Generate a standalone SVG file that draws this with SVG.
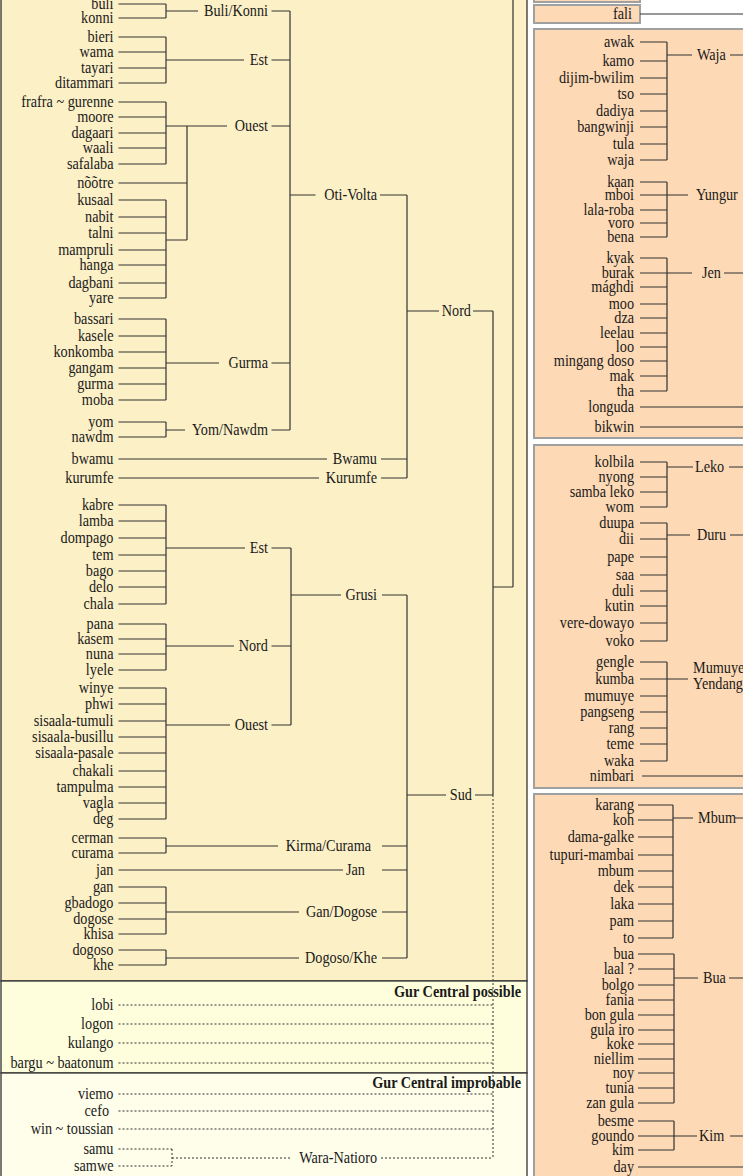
<svg xmlns="http://www.w3.org/2000/svg" width="743" height="1176" viewBox="0 0 743 1176">
<style>
text{font-family:"Liberation Serif","Times New Roman",serif;font-size:16px;fill:#1a1a1a}
.e{text-anchor:end}
.b{font-weight:bold}
.c path{fill:none;stroke:#333;stroke-width:1.2}
.c .d{stroke-dasharray:2,2;stroke-width:1}
.pl{stroke:#333;stroke-width:1.3}
.pr{fill:#FDD9B5;stroke:#A0A0A0;stroke-width:2}
</style>
<rect width="743" height="1176" fill="#fff"/>
<g id="panels">
<rect class="pl" x="1" y="-5" width="526" height="986" fill="#FCF0C7"/>
<rect class="pl" x="1" y="981" width="526" height="92" fill="#FEFEDD"/>
<rect class="pl" x="1" y="1073" width="526" height="110" fill="#FEFEEB"/>
<rect class="pr" x="534" y="-10" width="106" height="12"/>
<rect class="pr" x="534" y="5" width="106" height="18"/>
<rect class="pr" x="534" y="29" width="220" height="409"/>
<rect class="pr" x="534" y="445" width="220" height="343"/>
<rect class="pr" x="534" y="794" width="220" height="400"/>
</g>
<g id="connectors" class="c">
<path d="M118.5,4H166M118.5,18H166M166,4V18M166,11H198M271.5,11H290"/>
<path d="M118.5,37H166M118.5,52H166M118.5,68H166M118.5,83H166M166,37V83M166,60H244M271.5,60H290"/>
<path d="M118.5,102H166M118.5,117H166M118.5,133H166M118.5,148H166M118.5,164H166M166,102V164M166,126H227M271.5,126H290"/>
<path d="M118.5,183H187M187,126V240M166,240H187"/>
<path d="M118.5,200H166M118.5,217H166M118.5,233H166M118.5,250H166M118.5,265H166M118.5,283H166M118.5,298H166M166,200V298"/>
<path d="M118.5,319H166M118.5,336H166M118.5,352H166M118.5,368H166M118.5,384H166M118.5,400H166M166,319V400M166,363H219M271.5,363H290"/>
<path d="M118.5,422H166M118.5,437H166M166,422V437M166,430H185M271.5,430H290"/>
<path d="M290,11V430M290,195H315.5M380,195H407"/>
<path d="M118.5,459H327M381,459H407M118.5,478H319M381,478H407M407,195V478"/>
<path d="M407,311H439M473,311H493M493,311V795M493,587H513M513,587V-2"/>
<path d="M118.5,505H166M118.5,521H166M118.5,538H166M118.5,555H166M118.5,571H166M118.5,587H166M118.5,604H166M166,505V604M166,548H245M271.5,548H291"/>
<path d="M118.5,624H166M118.5,639H166M118.5,654H166M118.5,670H166M166,624V670M166,646H234M271.5,646H291"/>
<path d="M118.5,688H166M118.5,704H166M118.5,721H166M118.5,737H166M118.5,753H166M118.5,771H166M118.5,787H166M118.5,803H166M118.5,819H166M166,688V819M166,725H230M271.5,725H291"/>
<path d="M291,548V725M291,595H341M382,595H407"/>
<path d="M118.5,838H166M118.5,853H166M166,838V853M166,846H278M382,846H407"/>
<path d="M118.5,870H343M382,870H407"/>
<path d="M118.5,887H166M118.5,903H166M118.5,919H166M118.5,934H166M166,887V934M166,912H299M382,912H407"/>
<path d="M118.5,950H166M118.5,965H166M166,950V965M166,958H299M382,958H407"/>
<path d="M407,595V958M407,795H446M475,795H493"/>
<path class="d" d="M493,795V1158M118.5,1005H493M118.5,1024H493M118.5,1043H493M118.5,1063H493M118.5,1094H493M118.5,1111H493M118.5,1129H493M118.5,1149H172M118.5,1166H172M172,1149V1166M172,1158H292M381,1158H493"/>
<path d="M640,14H743"/>
<path d="M640,42H667M640,61H667M640,78H667M640,94H667M640,111H667M640,127H667M640,144H667M640,160H667M667,42V160M667,55H692M730,55H743"/>
<path d="M640,182H667M640,195H667M640,210H667M640,223H667M640,237H667M667,182V237M667,195H688"/>
<path d="M640,258H667M640,273H667M640,287H667M640,304H667M640,318H667M640,333H667M640,347H667M640,361H667M640,376H667M640,391H667M667,258V391M667,273H692M724,273H743"/>
<path d="M640,407H743M640,427H743"/>
<path d="M640,462H667M640,477H667M640,492H667M640,507H667M667,462V507M667,467H693M729,467H743"/>
<path d="M640,523H667M640,539H667M640,557H667M640,575H667M640,591H667M640,606H667M640,623H667M640,641H667M667,523V641M667,535H690M730,535H743"/>
<path d="M640,662H667M640,679H667M640,696H667M640,712H667M640,728H667M640,744H667M640,761H667M667,662V761M660,679H688"/>
<path d="M642,776H743"/>
<path d="M638,805H673M638,820H673M638,837H673M638,855H673M638,871H673M638,887H673M638,904H673M638,921H673M638,938H673M673,805V938M673,818H693M735,818H743"/>
<path d="M638,954H674M638,969H674M638,985H674M638,1000H674M638,1015H674M638,1030H674M638,1044H674M638,1059H674M638,1073H674M638,1088H674M638,1103H674M674,954V1103M674,978H698M729,978H743"/>
<path d="M638,1121H674M638,1136H674M638,1150H674M674,1121V1150M674,1136H697M730,1136H743"/>
<path d="M638,1167H743"/>
</g>
<g id="labels" transform="matrix(0.89 0 0 1 0 0.5)">
<g class="e">
<g id="l-buli"><text x="127.5" y="8.5">buli</text></g>
<g id="l-konni"><text x="127.5" y="22.5">konni</text></g>
<g id="l-bieri"><text x="127.5" y="41.5">bieri</text></g>
<g id="l-wama"><text x="127.5" y="56.5">wama</text></g>
<g id="l-tayari"><text x="127.5" y="72.5">tayari</text></g>
<g id="l-ditammari"><text x="127.5" y="87.5">ditammari</text></g>
<g id="l-frafra"><text x="127.5" y="106.5">frafra ~ gurenne</text></g>
<g id="l-moore"><text x="127.5" y="121.5">moore</text></g>
<g id="l-dagaari"><text x="127.5" y="137.5">dagaari</text></g>
<g id="l-waali"><text x="127.5" y="152.5">waali</text></g>
<g id="l-safalaba"><text x="127.5" y="168.5">safalaba</text></g>
<g id="l-nootre"><text x="127.5" y="187.5">nõõtre</text></g>
<g id="l-kusaal"><text x="127.5" y="204.5">kusaal</text></g>
<g id="l-nabit"><text x="127.5" y="221.5">nabit</text></g>
<g id="l-talni"><text x="127.5" y="237.5">talni</text></g>
<g id="l-mampruli"><text x="127.5" y="254.5">mampruli</text></g>
<g id="l-hanga"><text x="127.5" y="269.5">hanga</text></g>
<g id="l-dagbani"><text x="127.5" y="287.5">dagbani</text></g>
<g id="l-yare"><text x="127.5" y="302.5">yare</text></g>
<g id="l-bassari"><text x="127.5" y="323.5">bassari</text></g>
<g id="l-kasele"><text x="127.5" y="340.5">kasele</text></g>
<g id="l-konkomba"><text x="127.5" y="356.5">konkomba</text></g>
<g id="l-gangam"><text x="127.5" y="372.5">gangam</text></g>
<g id="l-gurma"><text x="127.5" y="388.5">gurma</text></g>
<g id="l-moba"><text x="127.5" y="404.5">moba</text></g>
<g id="l-yom"><text x="127.5" y="426.5">yom</text></g>
<g id="l-nawdm"><text x="127.5" y="441.5">nawdm</text></g>
<g id="l-bwamu"><text x="127.5" y="463.5">bwamu</text></g>
<g id="l-kurumfe"><text x="127.5" y="482.5">kurumfe</text></g>
<g id="l-kabre"><text x="127.5" y="509.5">kabre</text></g>
<g id="l-lamba"><text x="127.5" y="525.5">lamba</text></g>
<g id="l-dompago"><text x="127.5" y="542.5">dompago</text></g>
<g id="l-tem"><text x="127.5" y="559.5">tem</text></g>
<g id="l-bago"><text x="127.5" y="575.5">bago</text></g>
<g id="l-delo"><text x="127.5" y="591.5">delo</text></g>
<g id="l-chala"><text x="127.5" y="608.5">chala</text></g>
<g id="l-pana"><text x="127.5" y="628.5">pana</text></g>
<g id="l-kasem"><text x="127.5" y="643.5">kasem</text></g>
<g id="l-nuna"><text x="127.5" y="658.5">nuna</text></g>
<g id="l-lyele"><text x="127.5" y="674.5">lyele</text></g>
<g id="l-winye"><text x="127.5" y="692.5">winye</text></g>
<g id="l-phwi"><text x="127.5" y="708.5">phwi</text></g>
<g id="l-sisaala-tumuli"><text x="127.5" y="725.5">sisaala-tumuli</text></g>
<g id="l-sisaala-busillu"><text x="127.5" y="741.5">sisaala-busillu</text></g>
<g id="l-sisaala-pasale"><text x="127.5" y="757.5">sisaala-pasale</text></g>
<g id="l-chakali"><text x="127.5" y="775.5">chakali</text></g>
<g id="l-tampulma"><text x="127.5" y="791.5">tampulma</text></g>
<g id="l-vagla"><text x="127.5" y="807.5">vagla</text></g>
<g id="l-deg"><text x="127.5" y="823.5">deg</text></g>
<g id="l-cerman"><text x="127.5" y="842.5">cerman</text></g>
<g id="l-curama"><text x="127.5" y="857.5">curama</text></g>
<g id="l-jan"><text x="127.5" y="874.5">jan</text></g>
<g id="l-gan"><text x="127.5" y="891.5">gan</text></g>
<g id="l-gbadogo"><text x="127.5" y="907.5">gbadogo</text></g>
<g id="l-dogose"><text x="127.5" y="923.5">dogose</text></g>
<g id="l-khisa"><text x="127.5" y="938.5">khisa</text></g>
<g id="l-dogoso"><text x="127.5" y="954.5">dogoso</text></g>
<g id="l-khe"><text x="127.5" y="969.5">khe</text></g>
<g id="l-lobi"><text x="127.5" y="1009.5">lobi</text></g>
<g id="l-logon"><text x="127.5" y="1028.5">logon</text></g>
<g id="l-kulango"><text x="127.5" y="1047.5">kulango</text></g>
<g id="l-bargu"><text x="127.5" y="1067.5">bargu ~ baatonum</text></g>
<g id="l-viemo"><text x="127.5" y="1098.5">viemo</text></g>
<g id="l-cefo"><text x="122.5" y="1115.5">cefo</text></g>
<g id="l-win"><text x="127.5" y="1133.5">win ~ toussian</text></g>
<g id="l-samu"><text x="127.5" y="1153.5">samu</text></g>
<g id="l-samwe"><text x="127.5" y="1170.5">samwe</text></g>
<g id="g-bulikonni"><text x="301.1" y="15.5">Buli/Konni</text></g>
<g id="g-est-ov"><text x="301.1" y="64.5">Est</text></g>
<g id="g-ouest-ov"><text x="301.1" y="130.5">Ouest</text></g>
<g id="g-gurma"><text x="301.1" y="367.5">Gurma</text></g>
<g id="g-yomnawdm"><text x="301.1" y="434.5">Yom/Nawdm</text></g>
<g id="g-otivolta"><text x="423.6" y="199.5">Oti-Volta</text></g>
<g id="g-bwamu"><text x="423.6" y="463.5">Bwamu</text></g>
<g id="g-kurumfe"><text x="423.6" y="482.5">Kurumfe</text></g>
<g id="g-nord"><text x="529.2" y="315.5">Nord</text></g>
<g id="g-est-gr"><text x="301.1" y="552.5">Est</text></g>
<g id="g-nord-gr"><text x="301.1" y="650.5">Nord</text></g>
<g id="g-ouest-gr"><text x="301.1" y="729.5">Ouest</text></g>
<g id="g-grusi"><text x="423.6" y="599.5">Grusi</text></g>
<g id="g-kirma"><text x="416.9" y="850.5">Kirma/Curama</text></g>
<g id="g-jan"><text x="410.1" y="874.5">Jan</text></g>
<g id="g-gandogose"><text x="423.6" y="916.5">Gan/Dogose</text></g>
<g id="g-dogosokhe"><text x="423.6" y="962.5">Dogoso/Khe</text></g>
<g id="g-sud"><text x="530.3" y="799.5">Sud</text></g>
<g id="g-waranatioro"><text x="423.6" y="1162.5">Wara-Natioro</text></g>
<g id="t-possible"><text class="b" x="585.4" y="997">Gur Central possible</text></g>
<g id="t-improbable"><text class="b" x="585.4" y="1088">Gur Central improbable</text></g>
<g id="r-fali"><text x="710.1" y="18.5">fali</text></g>
<g id="r-awak"><text x="712.4" y="46.5">awak</text></g>
<g id="r-kamo"><text x="712.4" y="65.5">kamo</text></g>
<g id="r-dijim"><text x="712.4" y="82.5">dijim-bwilim</text></g>
<g id="r-tso"><text x="712.4" y="98.5">tso</text></g>
<g id="r-dadiya"><text x="712.4" y="115.5">dadiya</text></g>
<g id="r-bangwinji"><text x="712.4" y="131.5">bangwinji</text></g>
<g id="r-tula"><text x="712.4" y="148.5">tula</text></g>
<g id="r-waja"><text x="712.4" y="164.5">waja</text></g>
<g id="r-kaan"><text x="712.4" y="186.5">kaan</text></g>
<g id="r-mboi"><text x="712.4" y="199.5">mboi</text></g>
<g id="r-lalaroba"><text x="712.4" y="214.5">lala-roba</text></g>
<g id="r-voro"><text x="712.4" y="227.5">voro</text></g>
<g id="r-bena"><text x="712.4" y="241.5">bena</text></g>
<g id="r-kyak"><text x="712.4" y="262.5">kyak</text></g>
<g id="r-burak"><text x="712.4" y="277.5">burak</text></g>
<g id="r-maghdi"><text x="712.4" y="291.5">mághdi</text></g>
<g id="r-moo"><text x="712.4" y="308.5">moo</text></g>
<g id="r-dza"><text x="712.4" y="322.5">dza</text></g>
<g id="r-leelau"><text x="712.4" y="337.5">leelau</text></g>
<g id="r-loo"><text x="712.4" y="351.5">loo</text></g>
<g id="r-mingang"><text x="712.4" y="365.5">mingang doso</text></g>
<g id="r-mak"><text x="712.4" y="380.5">mak</text></g>
<g id="r-tha"><text x="712.4" y="395.5">tha</text></g>
<g id="r-longuda"><text x="712.4" y="411.5">longuda</text></g>
<g id="r-bikwin"><text x="712.4" y="431.5">bikwin</text></g>
<g id="r-kolbila"><text x="712.4" y="466.5">kolbila</text></g>
<g id="r-nyong"><text x="712.4" y="481.5">nyong</text></g>
<g id="r-sambaleko"><text x="712.4" y="496.5">samba leko</text></g>
<g id="r-wom"><text x="712.4" y="511.5">wom</text></g>
<g id="r-duupa"><text x="712.4" y="527.5">duupa</text></g>
<g id="r-dii"><text x="712.4" y="543.5">dii</text></g>
<g id="r-pape"><text x="712.4" y="561.5">pape</text></g>
<g id="r-saa"><text x="712.4" y="579.5">saa</text></g>
<g id="r-duli"><text x="712.4" y="595.5">duli</text></g>
<g id="r-kutin"><text x="712.4" y="610.5">kutin</text></g>
<g id="r-veredowayo"><text x="712.4" y="627.5">vere-dowayo</text></g>
<g id="r-voko"><text x="712.4" y="645.5">voko</text></g>
<g id="r-gengle"><text x="712.4" y="666.5">gengle</text></g>
<g id="r-kumba"><text x="712.4" y="683.5">kumba</text></g>
<g id="r-mumuye"><text x="712.4" y="700.5">mumuye</text></g>
<g id="r-pangseng"><text x="712.4" y="716.5">pangseng</text></g>
<g id="r-rang"><text x="712.4" y="732.5">rang</text></g>
<g id="r-teme"><text x="712.4" y="748.5">teme</text></g>
<g id="r-waka"><text x="712.4" y="765.5">waka</text></g>
<g id="r-nimbari"><text x="712.4" y="780.5">nimbari</text></g>
<g id="r-karang"><text x="712.4" y="809.5">karang</text></g>
<g id="r-koh"><text x="712.4" y="824.5">koh</text></g>
<g id="r-damagalke"><text x="712.4" y="841.5">dama-galke</text></g>
<g id="r-tupuri"><text x="712.4" y="859.5">tupuri-mambai</text></g>
<g id="r-mbum"><text x="712.4" y="875.5">mbum</text></g>
<g id="r-dek"><text x="712.4" y="891.5">dek</text></g>
<g id="r-laka"><text x="712.4" y="908.5">laka</text></g>
<g id="r-pam"><text x="712.4" y="925.5">pam</text></g>
<g id="r-to"><text x="712.4" y="942.5">to</text></g>
<g id="r-bua"><text x="712.4" y="958.5">bua</text></g>
<g id="r-laal"><text x="712.4" y="973.5">laal ?</text></g>
<g id="r-bolgo"><text x="712.4" y="989.5">bolgo</text></g>
<g id="r-fania"><text x="712.4" y="1004.5">fania</text></g>
<g id="r-bongula"><text x="712.4" y="1019.5">bon gula</text></g>
<g id="r-gulairo"><text x="712.4" y="1034.5">gula iro</text></g>
<g id="r-koke"><text x="712.4" y="1048.5">koke</text></g>
<g id="r-niellim"><text x="712.4" y="1063.5">niellim</text></g>
<g id="r-noy"><text x="712.4" y="1077.5">noy</text></g>
<g id="r-tunia"><text x="712.4" y="1092.5">tunia</text></g>
<g id="r-zangula"><text x="712.4" y="1107.5">zan gula</text></g>
<g id="r-besme"><text x="712.4" y="1125.5">besme</text></g>
<g id="r-goundo"><text x="712.4" y="1140.5">goundo</text></g>
<g id="r-kim"><text x="712.4" y="1154.5">kim</text></g>
<g id="r-day"><text x="712.4" y="1171.5">day</text></g>
</g>
<g id="g-waja"><text x="783.1" y="59.5">Waja</text></g>
<g id="g-yungur"><text x="782" y="199.5">Yungur</text></g>
<g id="g-jen"><text x="788.8" y="277.5">Jen</text></g>
<g id="g-leko"><text x="780.9" y="471.5">Leko</text></g>
<g id="g-duru"><text x="783.1" y="539.5">Duru</text></g>
<g id="g-mumuye"><text x="778.7" y="672.5">Mumuye</text><text x="778.7" y="688.5">Yendang</text></g>
<g id="g-mbum"><text x="784.3" y="822.5">Mbum</text></g>
<g id="g-bua"><text x="789.9" y="982.5">Bua</text></g>
<g id="g-kim"><text x="785.4" y="1140.5">Kim</text></g>
</g>
</svg>
